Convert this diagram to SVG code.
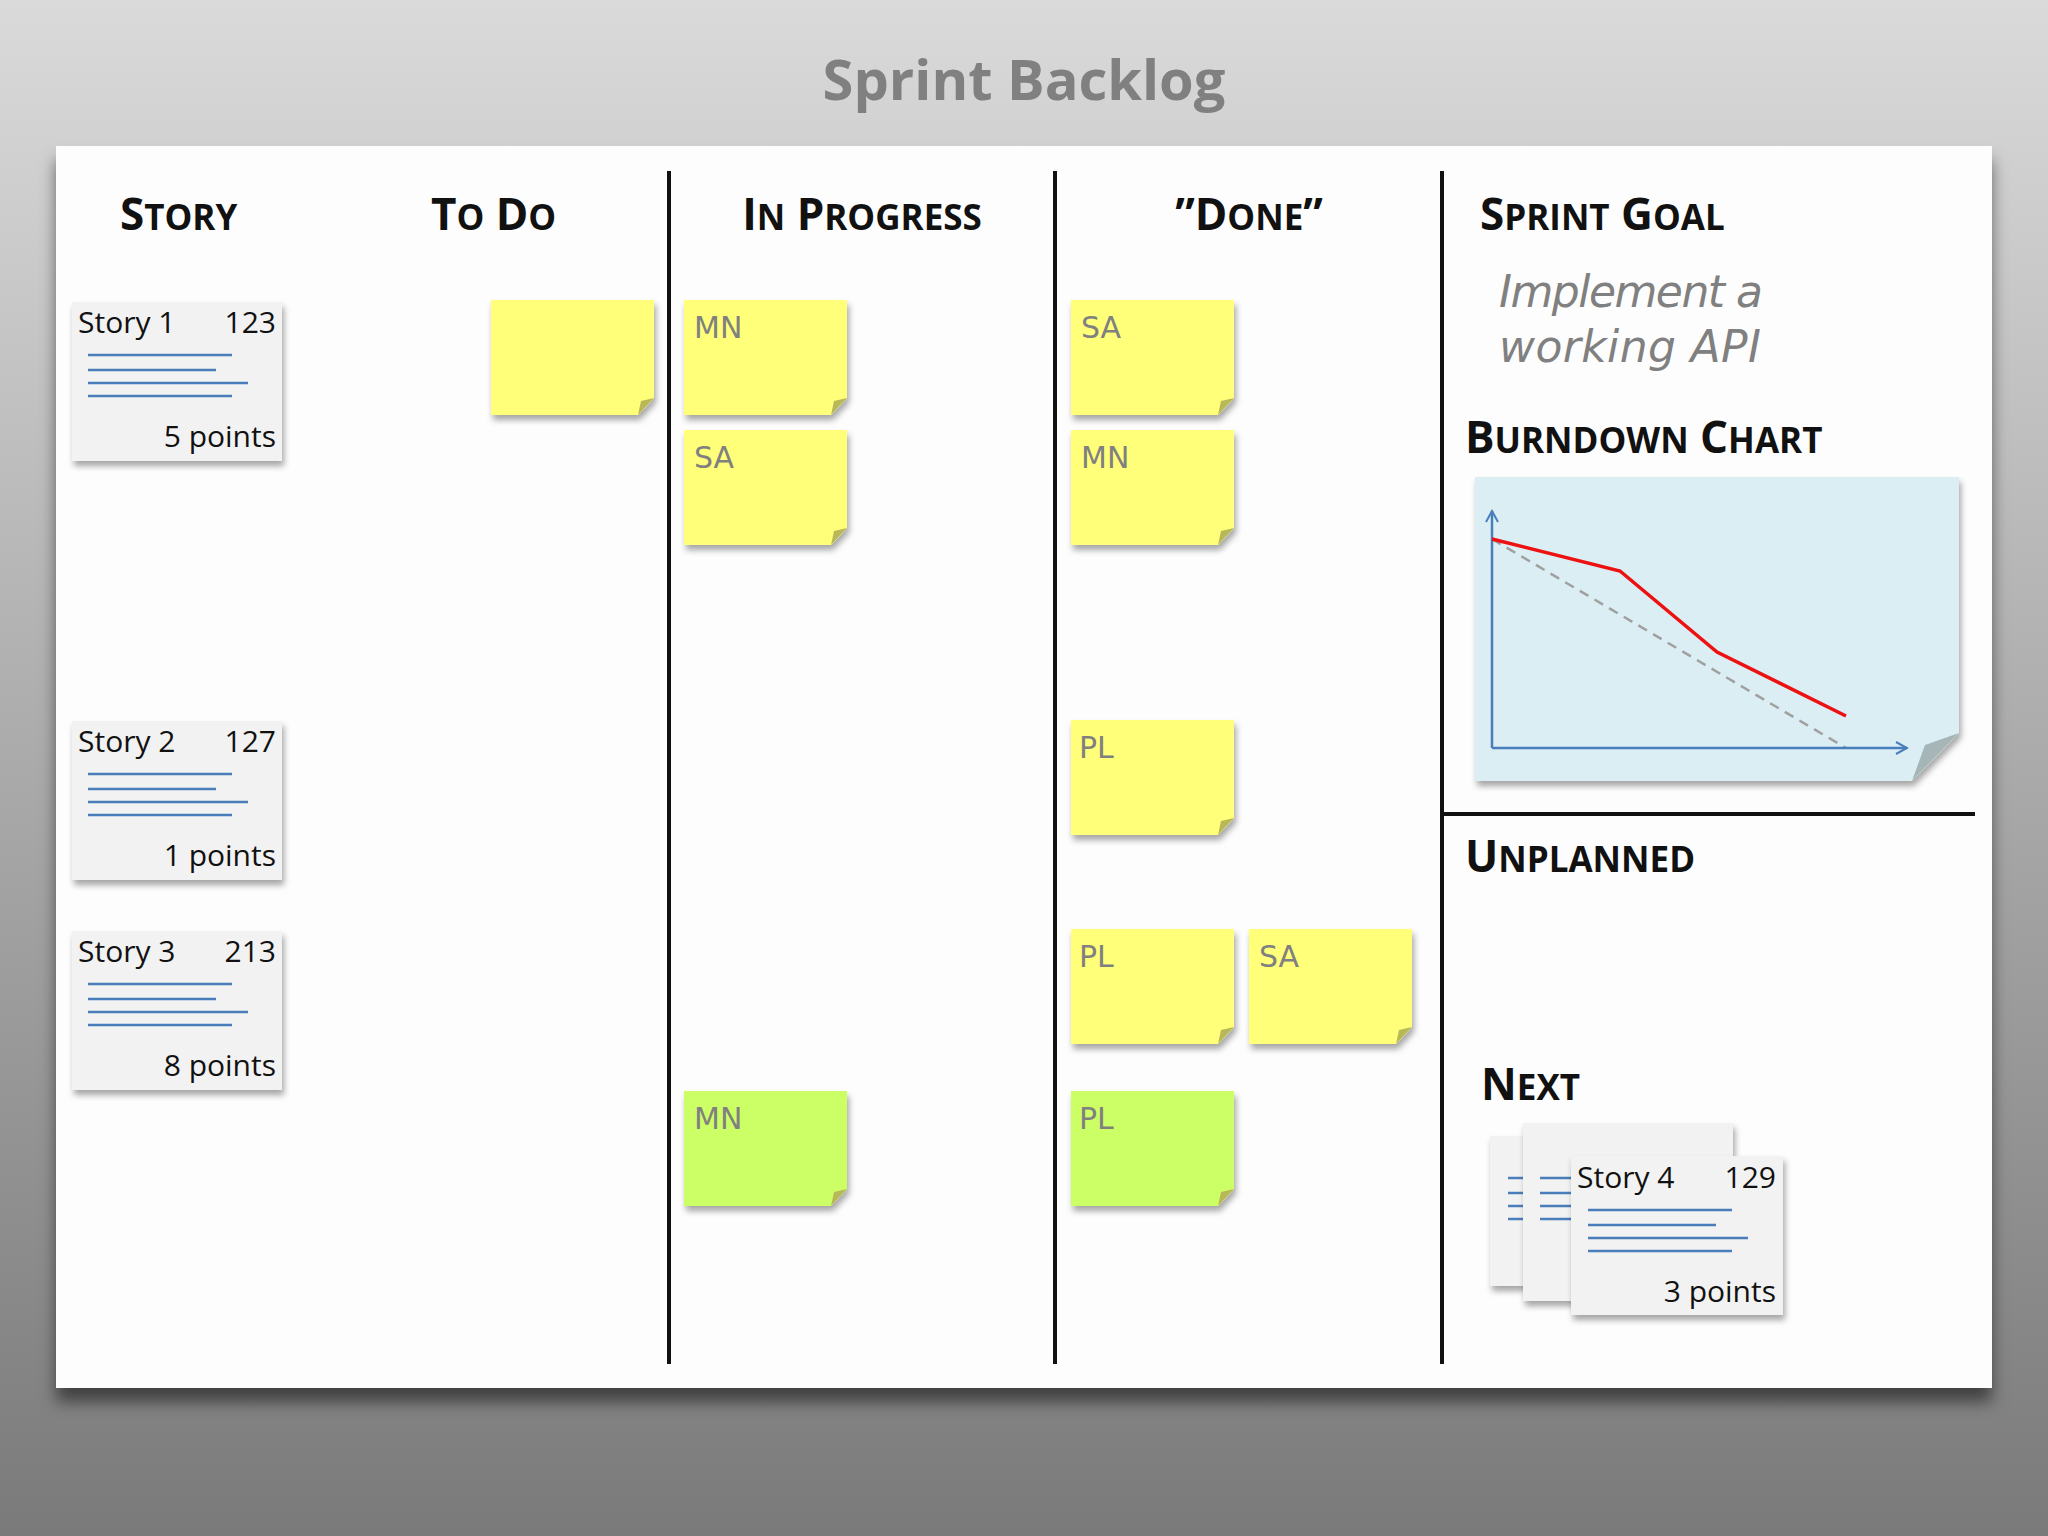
<svg xmlns="http://www.w3.org/2000/svg" width="2048" height="1536" viewBox="0 0 2048 1536">
<defs>
<linearGradient id="bg" x1="0" y1="0" x2="0" y2="1"><stop offset="0" stop-color="#dadada"/><stop offset="1" stop-color="#7a7a7a"/></linearGradient>
<filter id="sh" x="-10%" y="-10%" width="130%" height="140%"><feDropShadow dx="2" dy="5" stdDeviation="3" flood-color="#000" flood-opacity="0.35"/></filter>
<filter id="bsh" x="-5%" y="-5%" width="110%" height="115%"><feDropShadow dx="0" dy="14" stdDeviation="8" flood-color="#000" flood-opacity="0.5"/></filter>
<marker id="ar" markerWidth="14" markerHeight="14" refX="12" refY="7" orient="auto" markerUnits="userSpaceOnUse"><path d="M1,1 L12,7 L1,13" fill="none" stroke="#4a7ebb" stroke-width="2"/></marker>
</defs>
<style>
.h{font-family:"Open Sans","Liberation Sans",sans-serif;font-weight:bold;font-size:44px;fill:#111}
.h tspan.s{font-size:35px}
.card{fill:#f2f2f2}
.ct{font-family:"Open Sans","Liberation Sans",sans-serif;font-size:30px;fill:#111}
.ln{stroke:#4a7ebb;stroke-width:2.5}
.y{fill:#ffff7a}
.g{fill:#ccff66}
.fold{fill:#b8b858}
.st{font-family:"DejaVu Sans",sans-serif;font-size:30px;fill:#808080}
.vl{stroke:#111;stroke-width:4}
</style>
<rect width="2048" height="1536" fill="url(#bg)"/>
<text x="1024" y="100" text-anchor="middle" font-family="Open Sans, Liberation Sans, sans-serif" font-weight="bold" font-size="56" fill="#808080">Sprint Backlog</text>
<rect x="56" y="146" width="1936" height="1242" fill="#fff" filter="url(#bsh)"/>
<rect x="56" y="146" width="1936" height="1242" fill="#fdfdfd"/>
<g id="lines">
<line class="vl" x1="669" y1="171" x2="669" y2="1364"/>
<line class="vl" x1="1055" y1="171" x2="1055" y2="1364"/>
<line class="vl" x1="1442" y1="171" x2="1442" y2="1364"/>
<line class="vl" x1="1442" y1="814" x2="1975" y2="814"/>
</g>
<g id="headers">
<text class="h" x="120" y="230">S<tspan class="s">TORY</tspan></text>
<text class="h" x="431" y="230">T<tspan class="s">O</tspan> D<tspan class="s">O</tspan></text>
<text class="h" x="862" y="230" text-anchor="middle">I<tspan class="s">N</tspan> P<tspan class="s">ROGRESS</tspan></text>
<text class="h" x="1249" y="230" text-anchor="middle">”D<tspan class="s">ONE</tspan>”</text>
<text class="h" x="1480" y="230">S<tspan class="s">PRINT</tspan> G<tspan class="s">OAL</tspan></text>
<text class="h" x="1465" y="453">B<tspan class="s">URNDOWN</tspan> C<tspan class="s">HART</tspan></text>
<text class="h" x="1465" y="872">U<tspan class="s">NPLANNED</tspan></text>
<text class="h" x="1481" y="1100">N<tspan class="s">EXT</tspan></text>
</g>
<g id="goal" font-family="DejaVu Sans, sans-serif" font-style="italic" font-size="44" fill="#808080">
<text x="1499" y="307" textLength="264">Implement a</text>
<text x="1499" y="362" textLength="262">working API</text>
</g>
<g id="story1">
<rect class="card" x="72" y="302" width="210" height="159" filter="url(#sh)"/>
<text class="ct" x="78" y="333">Story 1</text><text class="ct" x="276" y="333" text-anchor="end">123</text>
<line class="ln" x1="88" y1="355" x2="232" y2="355"/><line class="ln" x1="88" y1="370" x2="216" y2="370"/><line class="ln" x1="88" y1="383" x2="248" y2="383"/><line class="ln" x1="88" y1="396" x2="232" y2="396"/>
<text class="ct" x="276" y="447" text-anchor="end">5 points</text>
</g>
<g id="story2">
<rect class="card" x="72" y="721" width="210" height="159" filter="url(#sh)"/>
<text class="ct" x="78" y="752">Story 2</text><text class="ct" x="276" y="752" text-anchor="end">127</text>
<line class="ln" x1="88" y1="774" x2="232" y2="774"/><line class="ln" x1="88" y1="789" x2="216" y2="789"/><line class="ln" x1="88" y1="802" x2="248" y2="802"/><line class="ln" x1="88" y1="815" x2="232" y2="815"/>
<text class="ct" x="276" y="866" text-anchor="end">1 points</text>
</g>
<g id="story3">
<rect class="card" x="72" y="931" width="210" height="159" filter="url(#sh)"/>
<text class="ct" x="78" y="962">Story 3</text><text class="ct" x="276" y="962" text-anchor="end">213</text>
<line class="ln" x1="88" y1="984" x2="232" y2="984"/><line class="ln" x1="88" y1="999" x2="216" y2="999"/><line class="ln" x1="88" y1="1012" x2="248" y2="1012"/><line class="ln" x1="88" y1="1025" x2="232" y2="1025"/>
<text class="ct" x="276" y="1076" text-anchor="end">8 points</text>
</g>
<g id="stickies">
<g transform="translate(491,300)"><path class="y" d="M0,0H163V98L147,115H0Z" filter="url(#sh)"/><path class="fold" d="M147,115L150,101L163,98Z"/></g>
<g transform="translate(684,300)"><path class="y" d="M0,0H163V98L147,115H0Z" filter="url(#sh)"/><path class="fold" d="M147,115L150,101L163,98Z"/><text class="st" x="10" y="38">MN</text></g>
<g transform="translate(684,430)"><path class="y" d="M0,0H163V98L147,115H0Z" filter="url(#sh)"/><path class="fold" d="M147,115L150,101L163,98Z"/><text class="st" x="10" y="38">SA</text></g>
<g transform="translate(684,1091)"><path class="g" d="M0,0H163V98L147,115H0Z" filter="url(#sh)"/><path class="fold" d="M147,115L150,101L163,98Z"/><text class="st" x="10" y="38">MN</text></g>
<g transform="translate(1071,300)"><path class="y" d="M0,0H163V98L147,115H0Z" filter="url(#sh)"/><path class="fold" d="M147,115L150,101L163,98Z"/><text class="st" x="10" y="38">SA</text></g>
<g transform="translate(1071,430)"><path class="y" d="M0,0H163V98L147,115H0Z" filter="url(#sh)"/><path class="fold" d="M147,115L150,101L163,98Z"/><text class="st" x="10" y="38">MN</text></g>
<g transform="translate(1071,720)"><path class="y" d="M0,0H163V98L147,115H0Z" filter="url(#sh)"/><path class="fold" d="M147,115L150,101L163,98Z"/><text class="st" x="8" y="38">PL</text></g>
<g transform="translate(1071,929)"><path class="y" d="M0,0H163V98L147,115H0Z" filter="url(#sh)"/><path class="fold" d="M147,115L150,101L163,98Z"/><text class="st" x="8" y="38">PL</text></g>
<g transform="translate(1249,929)"><path class="y" d="M0,0H163V98L147,115H0Z" filter="url(#sh)"/><path class="fold" d="M147,115L150,101L163,98Z"/><text class="st" x="10" y="38">SA</text></g>
<g transform="translate(1071,1091)"><path class="g" d="M0,0H163V98L147,115H0Z" filter="url(#sh)"/><path class="fold" d="M147,115L150,101L163,98Z"/><text class="st" x="8" y="38">PL</text></g>
</g>
<g id="burndown">
<path d="M1475,477H1959V733L1912,781H1475Z" fill="#daeef3" filter="url(#sh)"/>
<path d="M1912,781L1925,745L1959,733Z" fill="#a5b5b8"/>
<line x1="1492" y1="539" x2="1846" y2="748" stroke="#a0a0a0" stroke-width="2.5" stroke-dasharray="10,7"/>
<line x1="1492" y1="748" x2="1492" y2="511" stroke="#4a7ebb" stroke-width="2.5" marker-end="url(#ar)"/>
<line x1="1492" y1="748" x2="1907" y2="748" stroke="#4a7ebb" stroke-width="2.5" marker-end="url(#ar)"/>
<polyline points="1492,539 1620,571 1717,652 1846,716" fill="none" stroke="#ee1111" stroke-width="3.5"/>
</g>
<g id="story4">
<rect class="card" x="1490" y="1136" width="210" height="150" filter="url(#sh)"/>
<line class="ln" x1="1508" y1="1178" x2="1530" y2="1178"/><line class="ln" x1="1508" y1="1193" x2="1530" y2="1193"/><line class="ln" x1="1508" y1="1206" x2="1530" y2="1206"/><line class="ln" x1="1508" y1="1219" x2="1530" y2="1219"/>
<rect class="card" x="1523" y="1123" width="210" height="178" filter="url(#sh)"/>
<line class="ln" x1="1540" y1="1178" x2="1575" y2="1178"/><line class="ln" x1="1540" y1="1193" x2="1575" y2="1193"/><line class="ln" x1="1540" y1="1206" x2="1575" y2="1206"/><line class="ln" x1="1540" y1="1219" x2="1575" y2="1219"/>
<rect class="card" x="1571" y="1156" width="212" height="159" filter="url(#sh)"/>
<text class="ct" x="1577" y="1188">Story 4</text><text class="ct" x="1776" y="1188" text-anchor="end">129</text>
<line class="ln" x1="1588" y1="1210" x2="1732" y2="1210"/><line class="ln" x1="1588" y1="1225" x2="1716" y2="1225"/><line class="ln" x1="1588" y1="1238" x2="1748" y2="1238"/><line class="ln" x1="1588" y1="1251" x2="1732" y2="1251"/>
<text class="ct" x="1776" y="1302" text-anchor="end">3 points</text>
</g>
</svg>
